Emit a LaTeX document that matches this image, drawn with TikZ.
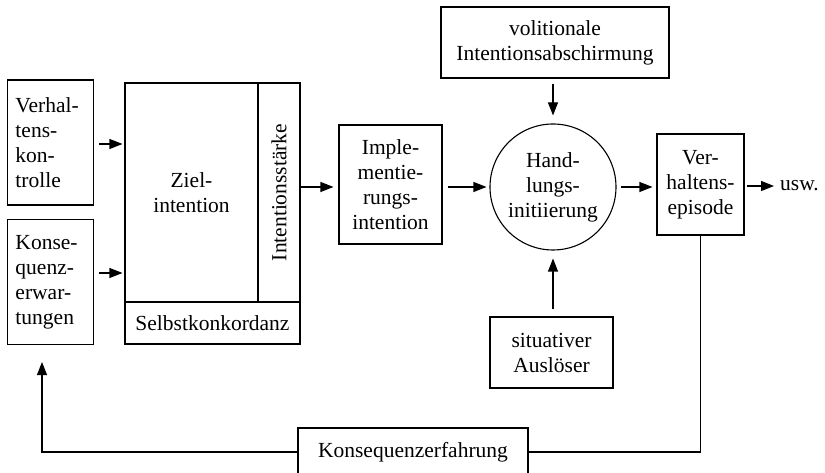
\documentclass[tikz,border=0pt]{standalone}
\usepackage{fontspec}
\setmainfont{Liberation Serif}
\usetikzlibrary{arrows.meta,positioning}
\tikzset{basic/.style={draw,line width=1.1pt,inner sep=3pt,align=center,
                       font=\fontsize{21.5}{25}\selectfont}}
\tikzset{block/.style={basic,rectangle}}
\tikzset{leftblock/.style={basic,rectangle,align=left,text width=70pt,
                           inner xsep=8pt,minimum height=125pt}}
\tikzset{arr/.style={-{Triangle[length=13pt,width=10pt]},line width=1.1pt}}

\begin{document}
\begin{tikzpicture}[x=1pt,y=1pt]
    \useasboundingbox (0,0) rectangle (825,473);
    \clip (0,0) rectangle (825,473);

    % inputs
    \node[leftblock] (vk) at (50.5,330.5) {Verhal-\\tens-\\kon-\\trolle};
    \node[leftblock] (ke) at (50.5,191) {Konse-\\quenz-\\erwar-\\tungen};

    % goal intention
    \node[block,minimum width=133pt,minimum height=219pt] (ziel) at (191.5,280.5) {Ziel-\\intention};
    \node[block,rotate=90,minimum width=219pt,minimum height=42pt] (staerke) at (279,280.5) {Intentionsst\"arke};
    \node[block,minimum width=175pt,minimum height=42pt] (selbst) at (212.5,150) {Selbstkonkordanz};

    \foreach \src/\dy in {vk/-1.5,ke/9}{%
        \draw[arr] ([shift={(5pt,\dy pt)}]\src.east) -- ([shift={(-2pt,\dy pt)}]\src.east -| ziel.west);
    }

    % implementation intention
    \node[block,minimum width=103pt,minimum height=119pt] (impl) at (390.5,288.5) {Imple-\\mentie-\\rungs-\\intention};
    % initiation
    \node[basic,circle,minimum size=126pt,inner sep=0pt] (hand) at (553,286) {Hand-\\lungs-\\initiierung};
    \node[block,minimum width=228pt,minimum height=71pt] (vol) at (555,430.5) {volitionale\\Intentionsabschirmung};
    \node[block,minimum width=123pt,minimum height=71pt] (sit) at (551.5,120.5) {situativer\\Ausl\"oser};
    % behaviour
    \node[block,minimum width=87pt,minimum height=101pt] (vep) at (700.5,288.5) {Ver-\\haltens-\\episode};
    \node[anchor=west,inner sep=2pt,font=\fontsize{21.5}{25}\selectfont] (usw) at (778,287) {usw.};
    \node[block,minimum width=230pt,minimum height=48pt] (kef) at (413,21) {Konsequenzerfahrung};

    \draw[arr] (staerke.south |- hand.west) -- ([xshift=-5pt]impl.west |- hand.west);
    \draw[arr] ([xshift=5pt]impl.east |- hand.west) -- ([xshift=-3pt]hand.west);
    \draw[arr] ([yshift=-5pt]vol.south -| hand.north) -- ([yshift=8pt]hand.north);
    \draw[arr] ([yshift=7pt]sit.north -| hand.south) -- ([yshift=-8pt]hand.south);
    \draw[arr] ([xshift=4pt]hand.east) -- ([xshift=-4pt]vep.west |- hand.east);
    \draw[arr] ([xshift=2pt]vep.east |- usw.west) -- ([xshift=-4pt]usw.west);

    % feedback
    \draw[line width=1.1pt] (vep.south) |- (kef.east);
    \draw[arr] (kef.west) -| ([shift={(-8.5pt,-17pt)}]ke.south);
\end{tikzpicture}
\end{document}
